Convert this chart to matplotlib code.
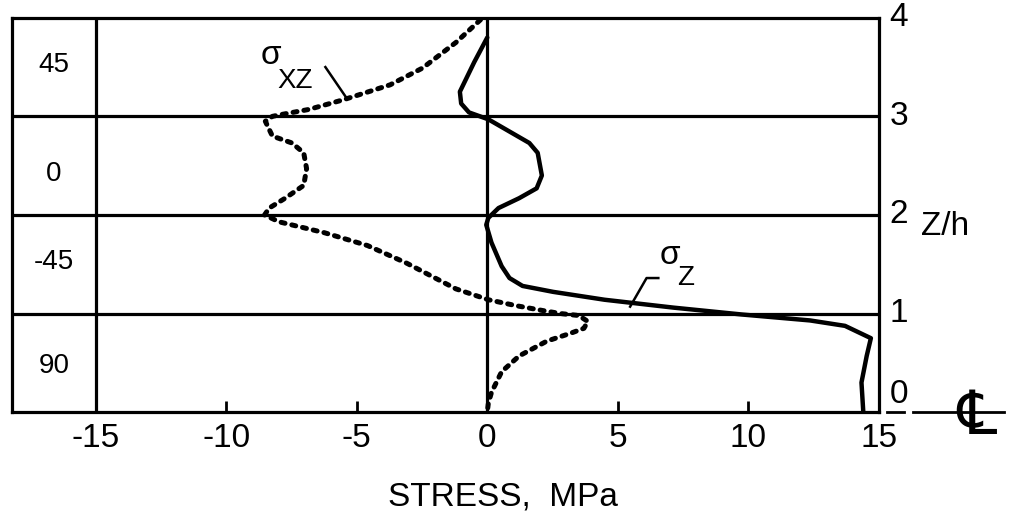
import matplotlib.pyplot as plt
from matplotlib.font_manager import fontManager

# stress profiles through the laminate thickness
z_sz = [3.80, 3.55, 3.25, 3.13, 3.04, 2.97, 2.73, 2.63, 2.40, 2.27, 2.17, 2.07, 1.97, 1.90,
        1.72, 1.48, 1.36, 1.28, 1.22, 1.14, 1.06, 0.99, 0.93, 0.875, 0.75, 0.57, 0.30, 0.0]
sigma_z = [0.0, -0.5, -1.05, -1.0, -0.7, 0.04, 1.61, 1.93, 2.09, 1.89, 1.22, 0.43, 0.04, -0.04,
           0.16, 0.55, 0.85, 1.35, 2.52, 4.49, 7.13, 9.76, 12.36, 13.7, 14.69, 14.53, 14.33, 14.4]

z_sxz = [3.98, 3.75, 3.49, 3.32, 3.17, 3.07, 3.02, 3.0, 2.95, 2.80, 2.73, 2.63, 2.47, 2.30,
         2.17, 2.07, 2.0, 1.93, 1.82, 1.69, 1.51, 1.25, 1.14, 1.08, 1.03, 1.0, 0.98, 0.92, 0.85,
         0.80, 0.72, 0.57, 0.41, 0.20, 0.09, 0.0]
sigma_xz = [-0.26, -1.2, -2.48, -3.72, -5.49, -6.84, -7.86, -8.23, -8.5, -8.23, -7.48, -7.03,
            -6.92, -7.03, -7.74, -8.35, -8.53, -7.97, -6.24, -4.59, -3.08, -1.2, 0.04, 1.1,
            2.13, 2.8, 3.5, 3.85, 3.7, 3.19, 2.28, 1.22, 0.55, 0.16, 0.04, 0.0]

ply_angles = ["45", "0", "-45", "90"]
ply_mid = [3.52, 2.42, 1.52, 0.47]
xticks = [-15, -10, -5, 0, 5, 10, 15]
zticks = [4, 3, 2, 1]

names = {f.name for f in fontManager.ttflist}
fam = ["Liberation Sans Narrow", "DejaVu Sans"] if "Liberation Sans Narrow" in names else ["Liberation Sans", "DejaVu Sans"]
plt.rcParams["font.family"] = fam

fig = plt.figure(figsize=(10.29, 5.23), dpi=100)
ax = fig.add_axes([0.0117, 0.212, 0.8425, 0.754])
ax.set_xlim(-18.2, 15)
ax.set_ylim(0, 4)

lw = 2.3
for s in ax.spines.values():
    s.set_linewidth(lw)
for z in [1, 2, 3]:
    ax.axhline(z, color="black", lw=lw)
for x in [-15, 0]:
    ax.axvline(x, color="black", lw=lw)

ax.plot(sigma_z, z_sz, color="black", lw=3.2, solid_capstyle="round", solid_joinstyle="round")
ax.plot(sigma_xz, z_sxz, color="black", lw=3.6, linestyle=(0, (0.8, 1.4)),
        dash_capstyle="round")

ax.set_xticks(xticks)
ax.set_xticklabels(["-15", "-10", "-5", "0", "5", "10", "15"])
ax.tick_params(axis="x", direction="in", length=8, width=2, labelsize=24, pad=8)
ax.set_yticks([])

for lab, z in zip(ply_angles, ply_mid):
    ax.text(-16.6, z, lab, ha="center", va="center", fontsize=20)

for z in zticks:
    ax.text(15.4, z, str(z), ha="left", va="center", fontsize=24, clip_on=False)
ax.text(15.4, 0.18, "0", ha="left", va="center", fontsize=24, clip_on=False)
ax.text(16.6, 1.88, "Z/h", ha="left", va="center", fontsize=24, clip_on=False)

# centreline mark
ax.plot([15.3, 15.95], [0, 0], color="black", lw=2, clip_on=False)
ax.plot([16.3, 19.8], [0, 0], color="black", lw=2, clip_on=False)
ax.text(18.75, -0.05, "\u2104", ha="center", va="center", fontsize=44,
        family=["DejaVu Sans"], clip_on=False)

# curve labels
ax.text(-8.3, 3.62, "σ", ha="center", va="center", fontsize=24)
ax.text(-7.35, 3.36, "XZ", ha="center", va="center", fontsize=20)
ax.plot([-6.2, -5.4], [3.50, 3.19], color="black", lw=1.8)

ax.text(7.0, 1.59, "σ", ha="center", va="center", fontsize=24)
ax.text(7.6, 1.36, "Z", ha="center", va="center", fontsize=20)
ax.plot([6.55, 6.1, 5.47], [1.36, 1.36, 1.07], color="black", lw=1.8)

fig.text(0.489, 0.05, "STRESS,  MPa", ha="center", va="center", fontsize=24)

fig.savefig("out.png", dpi=100)
